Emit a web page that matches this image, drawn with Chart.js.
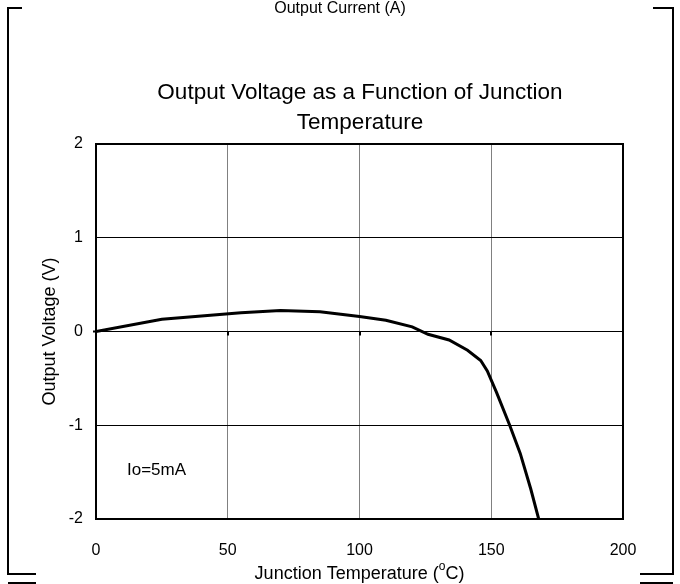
<!DOCTYPE html>
<html>
<head>
<meta charset="utf-8">
<script src="https://cdn.jsdelivr.net/npm/chart.js@4.4.1/dist/chart.umd.min.js"></script>
<style>
  html, body { margin: 0; padding: 0; background: #fff; }
  #wrap { width: 680px; height: 584px; position: relative; }
</style>
</head>
<body>
<div id="wrap"><canvas id="c" width="680" height="584"></canvas></div>
<script>
// ---- data ----
const temperatures = [0, 25, 40, 55, 70, 85, 100, 110, 120, 126, 134, 141, 146, 148.5, 152, 157, 161, 165, 168];
const voltages     = [0, 0.13, 0.165, 0.20, 0.225, 0.21, 0.16, 0.12, 0.05, -0.03, -0.09, -0.2, -0.31, -0.42, -0.65, -1.0, -1.3, -1.68, -2.0];
const xTicks = [0, 50, 100, 150, 200];
const yTicks = [-2, -1, 0, 1, 2];
const titleLines = ["Output Voltage as a Function of Junction", "Temperature"];
const xAxisTitle = "Junction Temperature (";
const xAxisTitleSup = "o";
const xAxisTitleEnd = "C)";
const yAxisTitle = "Output Voltage (V)";
const noteText = "Io=5mA";
const topText = "Output Current (A)";

const FONT = "'Liberation Sans', Arial, sans-serif";

const points = temperatures.map((t, i) => ({ x: t, y: voltages[i] }));

const decor = {
  id: 'decor',
  beforeDraw(chart) {
    const ctx = chart.ctx;
    ctx.save();
    ctx.fillStyle = '#fff';
    ctx.fillRect(0, 0, chart.width, chart.height);
    ctx.restore();
  },
  afterDraw(chart) {
    const ctx = chart.ctx;
    const a = chart.chartArea;
    const xs = chart.scales.x, ys = chart.scales.y;
    ctx.save();
    // plot border (top/right)
    ctx.strokeStyle = '#000';
    ctx.lineWidth = 2;
    ctx.beginPath();
    ctx.moveTo(a.left, a.top); ctx.lineTo(a.right, a.top); ctx.lineTo(a.right, a.bottom);
    ctx.stroke();
    // small tick marks at the zero line
    const y0 = ys.getPixelForValue(0);
    ctx.beginPath();
    [50, 100, 150].forEach(v => {
      const px = Math.round(xs.getPixelForValue(v));
      ctx.moveTo(px, y0); ctx.lineTo(px, y0 + 4);
    });
    ctx.moveTo(a.left - 3, y0); ctx.lineTo(a.left, y0);
    ctx.stroke();

    // outer frame fragments
    ctx.lineWidth = 2;
    ctx.beginPath();
    ctx.moveTo(22, 8); ctx.lineTo(8, 8); ctx.lineTo(8, 574); ctx.lineTo(36, 574);
    ctx.moveTo(8, 583); ctx.lineTo(36, 583);
    ctx.moveTo(653, 8); ctx.lineTo(673, 8); ctx.lineTo(673, 574); ctx.lineTo(640, 574);
    ctx.moveTo(640, 583); ctx.lineTo(673, 583);
    ctx.stroke();

    ctx.fillStyle = '#000';
    ctx.textAlign = 'center';
    ctx.textBaseline = 'middle';
    // top text
    ctx.font = '16px ' + FONT;
    ctx.fillText(topText, 340, 9);
    // title
    ctx.font = '22.5px ' + FONT;
    ctx.fillText(titleLines[0], 360, 93);
    ctx.fillText(titleLines[1], 360, 123);
    // note
    ctx.font = '17px ' + FONT;
    ctx.textAlign = 'left';
    ctx.fillText(noteText, 127, 470);
    // x axis title with superscript
    ctx.font = '18px ' + FONT;
    const w1 = ctx.measureText(xAxisTitle).width;
    ctx.font = '12px ' + FONT;
    const w2 = ctx.measureText(xAxisTitleSup).width;
    ctx.font = '18px ' + FONT;
    const w3 = ctx.measureText(xAxisTitleEnd).width;
    let sx = (a.left + a.right) / 2 - (w1 + w2 + w3) / 2;
    const ty = 574;
    ctx.fillText(xAxisTitle, sx, ty);
    ctx.font = '12px ' + FONT;
    ctx.fillText(xAxisTitleSup, sx + w1, ty - 7);
    ctx.font = '18px ' + FONT;
    ctx.fillText(xAxisTitleEnd, sx + w1 + w2, ty);
    // y axis title
    ctx.translate(50, (a.top + a.bottom) / 2);
    ctx.rotate(-Math.PI / 2);
    ctx.textAlign = 'center';
    ctx.fillText(yAxisTitle, 0, 0);
    ctx.restore();
  }
};

new Chart(document.getElementById('c'), {
  type: 'line',
  data: {
    datasets: [{
      data: points,
      borderColor: '#000',
      borderWidth: 3,
      pointRadius: 0,
      tension: 0,
      fill: false
    }]
  },
  options: {
    responsive: false,
    animation: false,
    layout: { padding: { top: 144, right: 57, left: 0, bottom: 0 } },
    plugins: { legend: { display: false }, title: { display: false }, tooltip: { enabled: false } },
    scales: {
      x: {
        type: 'linear',
        min: 0, max: 200,
        afterBuildTicks: s => { s.ticks = xTicks.map(v => ({ value: v })); },
        afterFit: s => { s.height = 65; },
        ticks: { color: '#000', font: { family: FONT, size: 16 }, padding: 22, maxRotation: 0 },
        grid: { color: '#808080', lineWidth: 1, drawTicks: false },
        border: { display: true, color: '#000', width: 2 }
      },
      y: {
        type: 'linear',
        min: -2, max: 2,
        afterBuildTicks: s => { s.ticks = yTicks.map(v => ({ value: v })); },
        afterFit: s => { s.width = 96; },
        ticks: { color: '#000', font: { family: FONT, size: 16 }, padding: 13 },
        grid: { color: '#000', lineWidth: 1, drawTicks: false },
        border: { display: true, color: '#000', width: 2 }
      }
    }
  },
  plugins: [decor]
});
</script>
</body>
</html>
